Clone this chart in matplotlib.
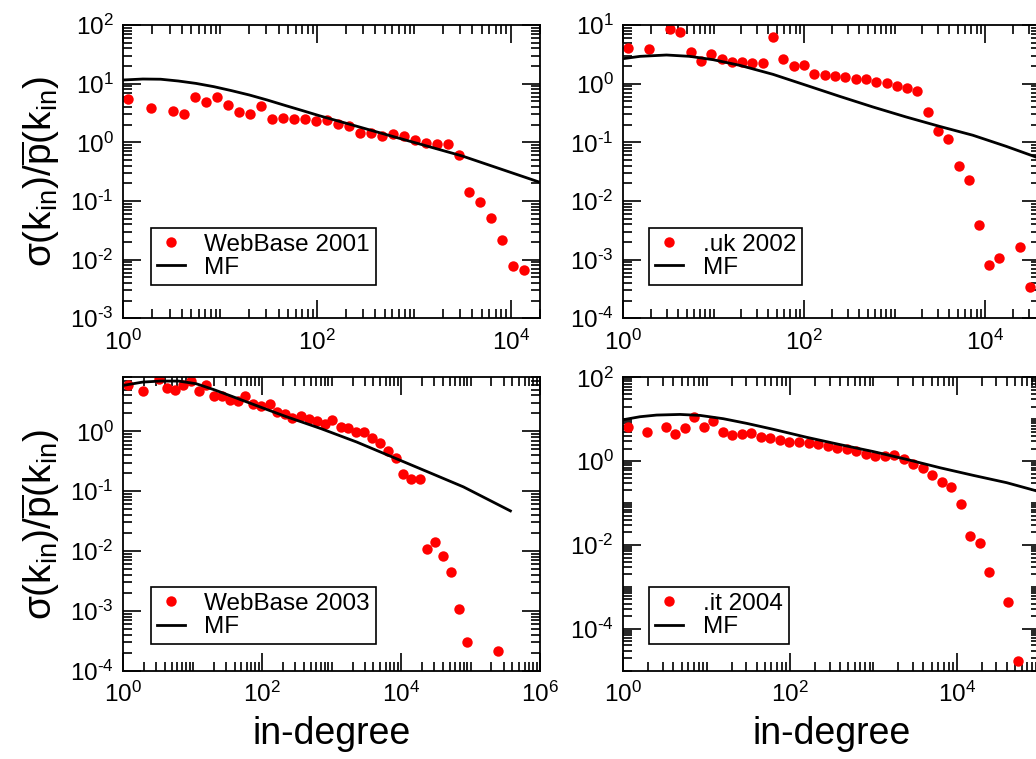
import numpy as np
import matplotlib
matplotlib.use("Agg")
import matplotlib.pyplot as plt
from matplotlib import ticker

plt.rcParams['font.family'] = ['Liberation Sans', 'DejaVu Sans']
plt.rcParams['mathtext.fontset'] = 'custom'
plt.rcParams['mathtext.rm'] = 'Liberation Sans'
plt.rcParams['mathtext.it'] = 'Liberation Sans'
plt.rcParams['mathtext.bf'] = 'Liberation Sans:bold'
plt.rcParams['mathtext.sf'] = 'Liberation Sans'

# WebBase 2001
wb01_k = [1.13, 1.93, 3.23, 4.20, 5.45, 7.08, 9.19, 11.9, 15.5, 20.1, 26.2, 34.0, 44.2, 57.3, 74.5,
          96.7, 126, 163, 212, 275, 357, 464, 603, 783, 1017, 1321, 1716, 2229, 2895, 3726,
          4800, 6237, 8035, 10430, 13550]
wb01_s = [5.5, 3.8, 3.46, 3.08, 5.9, 4.9, 5.9, 4.4, 3.33, 3.08, 4.16, 2.53, 2.56, 2.47, 2.53,
          2.31, 2.40, 2.03, 1.92, 1.42, 1.42, 1.28, 1.41, 1.27, 1.10, 0.99, 0.94, 0.92, 0.61, 0.14,
          0.097, 0.051, 0.0216, 0.0079, 0.0067]
mf01_k = [1, 1.59, 2.43, 3.70, 5.63, 8.59, 13.1, 20.0, 30.5, 46.4, 70.8, 108, 251, 583, 1355, 3148, 7318, 20000]
mf01_s = [11.55, 12.0, 11.9, 11.1, 10.1, 8.89, 7.60, 6.41, 5.27, 4.27, 3.47, 2.81, 1.90, 1.28, 0.866, 0.585, 0.365, 0.208]

# .uk 2002
uk02_k = [1.14, 1.94, 3.27, 4.25, 5.53, 7.19, 9.35, 12.2, 15.8, 20.5, 26.7, 34.7, 45.1, 58.6, 76.2,
          99, 129, 168, 218, 283, 368, 479, 622, 809, 1052, 1355, 1762, 2291, 2979, 3873,
          5035, 6546, 8511, 11066, 14270, 23910, 31100]
uk02_s = [4.05, 3.90, 8.66, 7.5, 3.51, 2.40, 3.25, 2.60, 2.37, 2.37, 2.25, 2.22, 6.16, 2.63, 2.00,
          2.08, 1.46, 1.42, 1.37, 1.32, 1.22, 1.20, 1.08, 1.01, 0.925, 0.833, 0.760, 0.325, 0.158, 0.112,
          0.039, 0.0231, 0.0039, 0.00081, 0.00107, 0.00164, 0.000347]
mf02_k = [1, 1.53, 3.0, 5.44, 9.84, 19.4, 45.1, 105, 245, 572, 1334, 3110, 7250, 16900, 40000]
mf02_s = [2.67, 2.92, 3.08, 2.92, 2.56, 2.05, 1.44, 0.937, 0.608, 0.400, 0.270, 0.187, 0.132, 0.0855, 0.053]

# WebBase 2003
wb03_k = [1.15, 1.91, 3.26, 4.22, 5.54, 7.18, 9.31, 12.2, 15.7, 20.3, 26.4, 34.5, 44.3, 57.4, 74.5,
          97.7, 128, 164, 213, 273, 358, 470, 609, 789, 1024, 1343, 1742, 2259, 2929, 3843,
          4982, 6458, 8375, 10730, 14080, 18480, 23660, 30690, 40270, 52220, 68500, 88900, 251000]
wb03_s = [5.86, 4.65, 7.57, 5.29, 4.96, 6.01, 6.83, 4.65, 6.01, 3.89, 3.94, 3.38, 3.17, 3.94, 2.82,
          2.68, 2.82, 2.08, 1.97, 1.69, 1.78, 1.63, 1.49, 1.34, 1.53, 1.18, 1.14, 0.987, 0.962, 0.774,
          0.647, 0.470, 0.359, 0.191, 0.158, 0.160, 0.0110, 0.0139, 0.0083, 0.00449, 0.00106, 0.000305, 0.000213]
mf03_k = [1, 1.91, 3.45, 6.24, 11.2, 20.3, 36.7, 66.2, 119, 216, 702, 2286, 7448, 24260, 78890, 375000]
mf03_s = [5.86, 6.66, 6.92, 6.92, 6.25, 4.96, 3.84, 2.97, 2.30, 1.78, 1.11, 0.664, 0.373, 0.210, 0.118, 0.0468]

# .it 2004
it04_k = [1.15, 1.92, 3.25, 4.21, 5.44, 7.11, 9.2, 12.0, 15.6, 20.3, 26.3, 34.4, 44.5, 58.1, 75.9,
          98.2, 128, 168, 217, 283, 366, 479, 619, 809, 1047, 1368, 1786, 2333, 3020, 3908,
          5105, 6607, 8630, 11270, 14590, 19050, 24660, 41690, 53950]
it04_s = [6.64, 4.96, 6.64, 4.53, 6.06, 11.05, 6.40, 9.21, 5.06, 4.21, 4.53, 4.79, 3.78, 3.58, 3.21,
          2.82, 2.93, 2.67, 2.58, 2.27, 2.07, 1.96, 1.79, 1.44, 1.31, 1.31, 1.39, 1.11, 0.834, 0.683,
          0.474, 0.324, 0.242, 0.0973, 0.0166, 0.0114, 0.00221, 0.000437, 1.71e-5]
mf04_k = [1, 1.585, 2.51, 4.79, 8.32, 15.85, 30.2, 63.1, 158, 398, 1000, 2512, 6310, 15850, 39810, 100000]
mf04_s = [9.73, 11.46, 12.56, 13.0, 12.33, 10.28, 7.96, 5.74, 3.71, 2.48, 1.69, 1.10, 0.695, 0.457, 0.306, 0.185]

W, H = 1036, 759
fig = plt.figure(figsize=(W / 100, H / 100), dpi=100)


def box(l, t, r, b):
    return [l / W, 1 - b / H, (r - l) / W, (b - t) / H]


def decade_label(v, pos):
    e = int(round(np.log10(v)))
    if e < 0:
        return r'$10^{\text{-}%d}$' % (-e)
    return r'$10^{%d}$' % e


panels = [
    (box(123.3, 25, 540, 318.3), wb01_k, wb01_s, mf01_k, mf01_s, "WebBase 2001",
     (1, 2e4), (1e-3, 1e2), 100, 10, (0.0665, 0.1135), True, False),
    (box(623.3, 25, 1040, 318.3), uk02_k, uk02_s, mf02_k, mf02_s, ".uk 2002",
     (1, 4e4), (1e-4, 1e1), 100, 10, (0.0624, 0.1135), False, False),
    (box(123.3, 377.3, 540, 670.7), wb03_k, wb03_s, mf03_k, mf03_s, "WebBase 2003",
     (1, 1e6), (1e-4, 8), 100, 10, (0.0665, 0.09), True, True),
    (box(623.3, 377.3, 1040, 670.7), it04_k, it04_s, mf04_k, mf04_s, ".it 2004",
     (1, 1e5), (1e-5, 1e2), 100, 100, (0.0624, 0.09), False, True),
]

for pos, k, s, mk, ms, name, xl, yl, xb, yb, lpos, ylab, xlab in panels:
    ax = fig.add_axes(pos)
    ax.plot(k, s, 'o', color='#ff0000', markersize=7.5, markeredgewidth=0, label=name)
    ax.plot(mk, ms, '-', color='black', lw=2.0, label='MF')
    ax.set_xscale('log')
    ax.set_yscale('log')
    ax.set_xlim(xl)
    ax.set_ylim(yl)
    ax.xaxis.set_major_locator(ticker.LogLocator(base=xb, numticks=100))
    ax.yaxis.set_major_locator(ticker.LogLocator(base=yb, numticks=100))
    ax.xaxis.set_minor_locator(ticker.LogLocator(base=10, subs=np.arange(1, 10), numticks=100))
    ax.yaxis.set_minor_locator(ticker.LogLocator(base=10, subs=np.arange(1, 10), numticks=100))
    ax.xaxis.set_major_formatter(ticker.FuncFormatter(decade_label))
    ax.yaxis.set_major_formatter(ticker.FuncFormatter(decade_label))
    ax.xaxis.set_minor_formatter(ticker.NullFormatter())
    ax.yaxis.set_minor_formatter(ticker.NullFormatter())
    ax.tick_params(which='both', direction='in', top=True, right=True, width=1.2, colors='black')
    ax.tick_params(which='major', length=13, labelsize=17.5)
    ax.tick_params(which='minor', length=6.5)
    ax.tick_params(axis='x', which='major', pad=8)
    ax.tick_params(axis='y', which='major', pad=7)
    for sp in ax.spines.values():
        sp.set_linewidth(1.3)
    if ylab:
        ax.set_ylabel(r'$\sigma(k_{in})/\overline{p}(k_{in})$', fontsize=28)
        ax.yaxis.set_label_coords(-0.147, 0.5)
    if xlab:
        ax.set_xlabel('in-degree', fontsize=27)
        ax.xaxis.set_label_coords(0.5, -0.154)
    leg = ax.legend(loc='lower left', bbox_to_anchor=lpos, borderaxespad=0, fontsize=17.5,
                    fancybox=False, framealpha=1, edgecolor='black', borderpad=0.25,
                    labelspacing=0.05, handlelength=1.15, handletextpad=0.8)
    leg.get_frame().set_linewidth(1.2)

fig.savefig('out.png', dpi=100)
